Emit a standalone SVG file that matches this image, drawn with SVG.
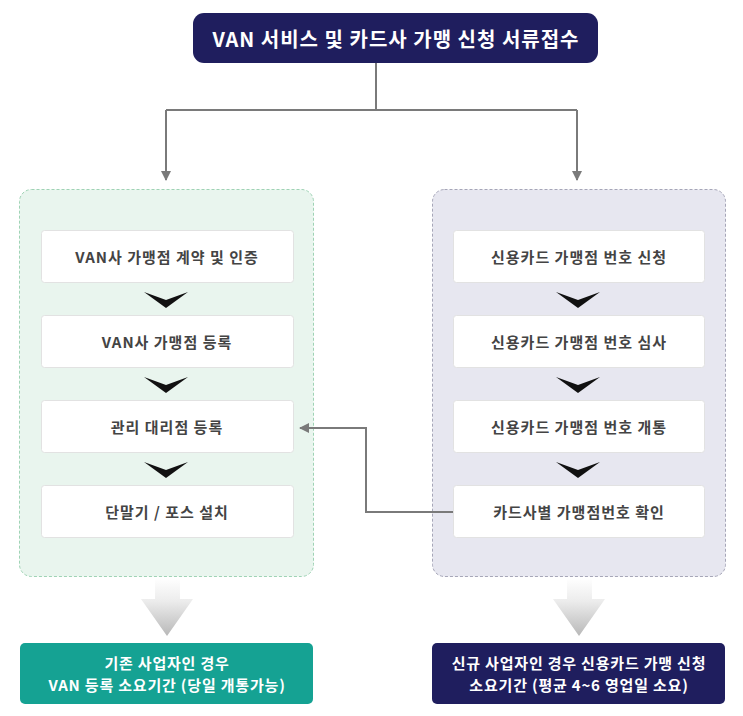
<svg xmlns="http://www.w3.org/2000/svg" width="743" height="716" viewBox="0 0 743 716">
<style>
text{font-family:"Noto Sans CJK KR","Noto Sans",sans-serif;font-weight:bold;text-anchor:middle;dominant-baseline:central}
.step rect{fill:#fff;stroke:#e2e2e2;stroke-width:1}
.step text{font-size:15px;fill:#444;letter-spacing:1px}
.chev{fill:#111}
.conn{fill:none;stroke:#7a7a7a;stroke-width:2}
.white{fill:#fff}
.res{font-size:15px;letter-spacing:0.8px}
</style>
<defs>
<marker id="ah" viewBox="0 0 10 10" refX="9" refY="5" markerWidth="5" markerHeight="5" orient="auto-start-reverse"><path d="M0,0L10,5L0,10z" fill="#7a7a7a"/></marker>
<linearGradient id="garr" x1="0" y1="0" x2="0" y2="1"><stop offset="0" stop-color="#fff"/><stop offset="0.4" stop-color="#ececec"/><stop offset="1" stop-color="#b8b8b8"/></linearGradient>
</defs>

<g id="title">
<rect x="193" y="13" width="405" height="50" rx="11" fill="#1f1e5e"/>
<text x="396" y="38" class="white" style="font-size:20px;letter-spacing:1px">VAN 서비스 및 카드사 가맹 신청 서류접수</text>
</g>

<g id="panel-left">
<rect x="19.5" y="189.5" width="294" height="387" rx="12" fill="#e9f5ee" stroke="#9fd3b5" stroke-dasharray="3,2"/>
</g>
<g id="panel-right">
<rect x="432.5" y="189.5" width="293" height="387" rx="12" fill="#e7e7f0" stroke="#a6a6b8" stroke-dasharray="3,2"/>
</g>

<g id="l1" class="step"><rect x="41.5" y="230.5" width="252" height="52" rx="3"/><text x="167" y="256">VAN사 가맹점 계약 및 인증</text></g>
<g id="l2" class="step"><rect x="41.5" y="315.5" width="252" height="52" rx="3"/><text x="167" y="341">VAN사 가맹점 등록</text></g>
<g id="l3" class="step"><rect x="41.5" y="400.5" width="252" height="52" rx="3"/><text x="167" y="426">관리 대리점 등록</text></g>
<g id="l4" class="step"><rect x="41.5" y="485.5" width="252" height="52" rx="3"/><text x="167" y="511">단말기 / 포스 설치</text></g>

<g id="r1" class="step"><rect x="453.5" y="230.5" width="251" height="52" rx="3"/><text x="579" y="256">신용카드 가맹점 번호 신청</text></g>
<g id="r2" class="step"><rect x="453.5" y="315.5" width="251" height="52" rx="3"/><text x="579" y="341">신용카드 가맹점 번호 심사</text></g>
<g id="r3" class="step"><rect x="453.5" y="400.5" width="251" height="52" rx="3"/><text x="579" y="426">신용카드 가맹점 번호 개통</text></g>
<g id="r4" class="step"><rect x="453.5" y="485.5" width="251" height="52" rx="3"/><text x="579" y="511">카드사별 가맹점번호 확인</text></g>

<g id="chevrons">
<path class="chev" d="M144,292L166,300L188,292L166,308z"/>
<path class="chev" d="M144,377L166,385L188,377L166,393z"/>
<path class="chev" d="M144,462L166,470L188,462L166,478z"/>
<path class="chev" d="M556,292L578,300L600,292L578,308z"/>
<path class="chev" d="M556,377L578,385L600,377L578,393z"/>
<path class="chev" d="M556,462L578,470L600,462L578,478z"/>
</g>

<g id="big-arrows">
<path d="M155,578H180V599H193L167,636L141,599H155z" fill="url(#garr)"/>
<path d="M567,578H592V599H605L579,636L553,599H567z" fill="url(#garr)"/>
</g>

<g id="result-left">
<rect x="20" y="643" width="293" height="61" rx="5" fill="#15a293"/>
<text x="167" y="662" class="white res">기존 사업자인 경우</text>
<text x="167" y="684" class="white res">VAN 등록 소요기간 (당일 개통가능)</text>
</g>
<g id="result-right">
<rect x="432" y="643" width="293" height="61" rx="5" fill="#1f1e5e"/>
<text x="579" y="662" class="white res">신규 사업자인 경우 신용카드 가맹 신청</text>
<text x="579" y="684" class="white res">소요기간 (평균 4~6 영업일 소요)</text>
</g>

<g id="connectors">
<path class="conn" d="M376,63V110M166,110H577M166,110V180" marker-end="url(#ah)"/>
<path class="conn" d="M577,110V180" marker-end="url(#ah)"/>
<path class="conn" d="M453,512H366V428H300" marker-end="url(#ah)"/>
</g>
</svg>
